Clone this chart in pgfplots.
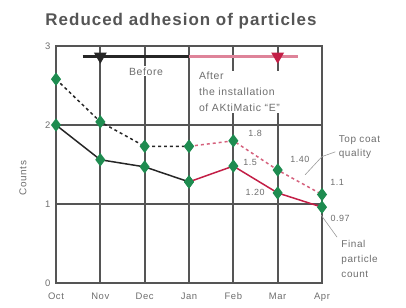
\documentclass[border=0pt]{standalone}
\usepackage{pgfplots}
\pgfplotsset{compat=1.18}
\usepackage{fontspec}
\setmainfont{Liberation Sans}
\newfontfamily\wide[LetterSpace=6]{Liberation Sans}
\definecolor{gridc}{RGB}{85,85,85}
\definecolor{mgreen}{RGB}{30,140,80}
\definecolor{mred}{RGB}{195,30,70}
\definecolor{tgray}{RGB}{110,110,110}
\begin{document}
\begin{tikzpicture}
\useasboundingbox (-56bp,-25bp) rectangle (350bp,283bp);
\begin{axis}[at={(0,0)}, anchor=south west, scale only axis,
  width=266bp, height=237bp,
  xmin=0, xmax=6, ymin=0, ymax=3,
  xtick={0,...,6}, xticklabels={Oct,Nov,Dec,Jan,Feb,Mar,Apr},
  ytick={0,1,2,3},
  grid=major, major grid style={line width=2pt, gridc},
  axis line style={line width=2pt, gridc},
  tick style={draw=none},
  ticklabel style={font=\wide\fontsize{9.5}{10}\selectfont, text=tgray},
  xticklabel style={yshift=-6bp},
  yticklabel style={xshift=-2bp},
  clip=false,
  /pgf/number format/assume math mode=true]
% before / after bars
\addplot[line width=3pt, black!85, mark=triangle*, mark size=4.5pt, mark options={rotate=180}, mark indices={2}] coordinates {(0.6,2.87) (1,2.87) (3.0,2.87)};
\addplot[line width=3pt, mred!55, mark=triangle*, mark size=4.5pt, mark options={rotate=180, fill=mred, draw=mred}, mark indices={2}] coordinates {(3.0,2.87) (5,2.87) (5.45,2.87)};
\node[fill=white, inner sep=1pt, font=\wide\fontsize{10.5}{12}\selectfont, text=tgray] at (axis cs:2.03,2.68) {Before};
\node[fill=white, inner sep=1pt, align=left, anchor=west, font=\wide\fontsize{10.5}{16}\selectfont, text=tgray] at (axis cs:3.2,2.42) {After\\the installation\\of AKtiMatic “E”};
% top coat quality (dashed)
\addplot[line width=1.5pt, black!85, dashed, mark=diamond*, mark size=5.5pt, mark options={solid, fill=mgreen, draw=mgreen}] coordinates {(0,2.58) (1,2.04) (2,1.73) (3,1.73)};
\addplot[line width=1.5pt, mred!70, dashed, mark=diamond*, mark size=5.5pt, mark options={solid, fill=mgreen, draw=mgreen}] coordinates {(3,1.73) (4,1.80) (5,1.43) (6,1.12)};
% final particle count (solid)
\addplot[line width=1.5pt, black!85, mark=diamond*, mark size=5.5pt, mark options={fill=mgreen, draw=mgreen}] coordinates {(0,2.0) (1,1.56) (2,1.47) (3,1.28)};
\addplot[line width=1.5pt, mred, mark=diamond*, mark size=5.5pt, mark options={fill=mgreen, draw=mgreen}] coordinates {(3,1.28) (4,1.48) (5,1.14) (6,0.96)};
% value labels
\begin{scope}[every node/.style={font=\wide\fontsize{9}{10}\selectfont, text=tgray}]
\node at (axis cs:4.49,1.89) {1.8};
\node at (axis cs:4.38,1.52) {1.5};
\node at (axis cs:5.5,1.56) {1.40};
\node at (axis cs:4.49,1.15) {1.20};
\node at (axis cs:6.34,1.27) {1.1};
\node at (axis cs:6.41,0.82) {0.97};
\end{scope}
% callouts
\draw[tgray!70, line width=0.6pt] (axis cs:5.62,1.37) -- (axis cs:6.0,1.6) -- (axis cs:6.3,1.66);
\draw[tgray!70, line width=0.6pt] (axis cs:5.98,0.86) -- (axis cs:6.34,0.58);
\node[align=left, anchor=west, font=\wide\fontsize{10}{15}\selectfont, text=tgray] at (axis cs:6.3,1.72) {Top coat\\quality};
\node[align=left, anchor=west, font=\wide\fontsize{10}{15}\selectfont, text=tgray] at (axis cs:6.36,0.30) {Final\\particle\\count};
\end{axis}
\node[font=\wide\fontsize{17}{18}\selectfont\bfseries, text=gridc] at (125bp,262bp) {Reduced adhesion of particles};
\node[rotate=90, font=\wide\fontsize{10}{11}\selectfont, text=tgray] at (-33bp,105bp) {Counts};
\end{tikzpicture}
\end{document}
